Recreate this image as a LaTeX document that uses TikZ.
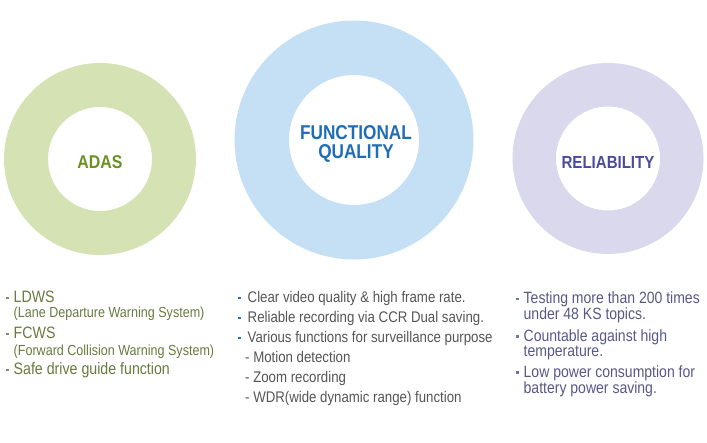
\documentclass[tikz,border=0pt]{standalone}
\usepackage{fontspec}
\setmainfont{Liberation Sans}[FakeStretch=0.86]
\usetikzlibrary{positioning}
\definecolor{adasring}{HTML}{D5E2B4}
\definecolor{adaslabel}{HTML}{6B9020}
\definecolor{adasitem}{HTML}{687A3E}
\definecolor{adasdot}{HTML}{7F8A62}
\definecolor{funcring}{HTML}{C5E0F4}
\definecolor{funclabel}{HTML}{1F6DB5}
\definecolor{funcitem}{HTML}{555555}
\definecolor{funcdot}{HTML}{2A75BE}
\definecolor{relring}{HTML}{D9D8EC}
\definecolor{rellabel}{HTML}{4B4B9E}
\definecolor{relitem}{HTML}{575887}
\definecolor{reldot}{HTML}{7474A2}

\begin{document}
\begin{tikzpicture}[x=1pt,y=-1pt,
  ring/.style={circle,draw=#1,inner sep=0pt},
  ring label/.style={align=center,inner sep=0pt,text=#1},
  item/.style={anchor=base west,inner sep=0pt},
  adas item/.style={item,text=adasitem,font=\fontsize{16.5}{18}\selectfont},
  adas note/.style={item,text=adasitem,font=\fontsize{14.6}{16}\selectfont},
  func item/.style={item,text=funcitem,font=\fontsize{15.4}{18}\selectfont},
  rel item/.style={item,text=relitem,font=\fontsize{16.3}{18}\selectfont},
  dot/.style={rectangle,fill=#1,inner sep=0pt,minimum width=2.8pt,minimum height=2.8pt}]
  \useasboundingbox (0,0) rectangle (707,442);

  % rings
  \node[ring=adasring,line width=44pt,minimum size=148pt] (adas) at (100,159) {};
  \node[ring=funcring,line width=54.5pt,minimum size=184.5pt] (func) at (354,140) {};
  \node[ring=relring,line width=43.5pt,minimum size=147.5pt] (rel) at (608,158.5) {};

  \node[ring label=adaslabel,font=\bfseries\fontsize{18.5}{20}\selectfont] (adas label) at ([yshift=-3pt]adas.center) {ADAS};
  \node[ring label=funclabel,font=\bfseries\fontsize{20}{18.3}\selectfont] (func label) at ([xshift=2pt,yshift=-4pt]func.center) {FUNCTIONAL\\QUALITY};
  \node[ring label=rellabel,font=\bfseries\fontsize{17.5}{20}\selectfont] (rel label) at ([yshift=-3.5pt]rel.center) {RELIABILITY};

  % ADAS list
  \node[adas item] (ldws) at (13.5,302.5) {LDWS};
  \node[adas note] (ldws note) at (13.5,317.5) {(Lane Departure Warning System)};
  \node[adas item] (fcws) at (13.5,338.5) {FCWS};
  \node[adas note] (fcws note) at (13.5,355.5) {(Forward Collision Warning System)};
  \node[adas item] (safe) at (13.5,374.5) {Safe drive guide function};
  \foreach \n in {ldws,fcws,safe}
    \node[dot=adasdot] (\n dot) at ([xshift=-6pt,yshift=4.5pt]\n.base west) {};

  % functional quality list
  \node[func item] (clear) at (247.5,302.5) {Clear video quality \& high frame rate.};
  \node[func item] (ccr) at (247.5,322.5) {Reliable recording via CCR Dual saving.};
  \node[func item] (various) at (247.5,342.5) {Various functions for surveillance purpose};
  \node[func item] (motion) at (245,362.5) {- Motion detection};
  \node[func item] (zoom) at (245,382.5) {- Zoom recording};
  \node[func item] (wdr) at (245,402.5) {- WDR(wide dynamic range) function};
  \foreach \n in {clear,ccr,various}
    \node[dot=funcdot] (\n dot) at ([xshift=-8pt,yshift=4.5pt]\n.base west) {};

  % reliability list
  \node[rel item] (testing) at (523.5,303.5) {Testing more than 200 times};
  \node[rel item] (ks) at (523.5,319.5) {under 48 KS topics.};
  \node[rel item] (countable) at (523.5,341) {Countable against high};
  \node[rel item] (temp) at (523.5,356.5) {temperature.};
  \node[rel item] (low) at (523.5,377) {Low power consumption for};
  \node[rel item] (battery) at (523.5,393) {battery power saving.};
  \foreach \n in {testing,countable,low}
    \node[dot=reldot] (\n dot) at ([xshift=-6pt,yshift=4.5pt]\n.base west) {};
\end{tikzpicture}
\end{document}
